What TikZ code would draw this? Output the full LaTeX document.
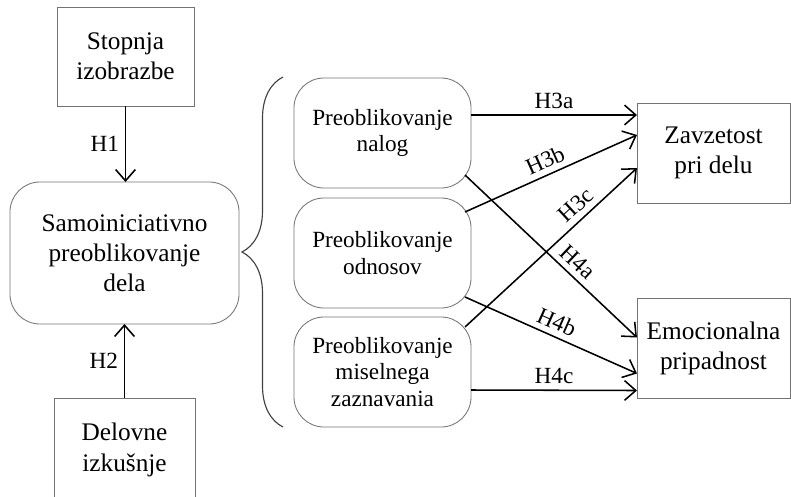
\documentclass[tikz,border=0pt]{standalone}
\usepackage{fontspec}
\setmainfont{Liberation Serif}
\usetikzlibrary{arrows.meta,calc,decorations.pathreplacing}

\begin{document}
\begin{tikzpicture}[x=0.025cm,y=-0.025cm,
  box/.style={draw=black!55,line width=0.6pt,inner sep=0pt,outer sep=0pt,align=center,font=\fontsize{18}{21.5}\selectfont},
  rbox/.style={box,rounded corners=0.75cm},
  mbox/.style={rbox,minimum width=4.425cm,minimum height=2.75cm,font=\fontsize{16.5}{19}\selectfont},
  ibox/.style={box,minimum width=3.825cm,minimum height=2.5cm},
  pot/.style={-{Straight Barb[length=8pt,width=14pt]},line width=1.1pt},
  hlbl/.style={font=\fontsize{16.5}{18}\selectfont,inner sep=4pt},
  lbl/.style={hlbl,sloped,above}]
  \useasboundingbox (0,0) rectangle (791,496);
  \clip (0,0) rectangle (791,496);
  \node[box,minimum width=3.425cm,minimum height=2.475cm] (stopnja) at (125.5,56.5) {Stopnja\\izobrazbe};
  \node[rbox,minimum width=5.725cm,minimum height=3.55cm] (samo) at (124.5,253) {Samoiniciativno\\preoblikovanje\\dela};
  \node[box,minimum width=3.525cm,minimum height=2.6cm] (delovne) at (124.5,450) {Delovne\\izkušnje};
  \draw[pot] (stopnja.south) -- node[hlbl,midway,left]{H1} (stopnja.south |- samo.north);
  \draw[pot] (delovne.north) -- node[hlbl,midway,left]{H2} (delovne.north |- samo.south);
  \draw[black!75,line width=0.8pt,decorate,decoration={brace,amplitude=1.025cm}] (283,427) -- (283,77);
  \node[mbox] (nalog) at (382.5,133) {Preoblikovanje\\nalog};
  \node[mbox] (odnos) at (382.5,253) {Preoblikovanje\\odnosov};
  \node[mbox] (misel) at (382.5,372) {Preoblikovanje\\miselnega\\zaznavania};
  \node[ibox] (zavzet) at (713.5,153) {Zavzetost\\pri delu};
  \node[ibox] (emoc) at (713.5,348.5) {Emocionalna\\pripadnost};
  \draw[pot] ($(nalog.east)+(0,-18)$) -- node[lbl]{H3a} ($(zavzet.west)+(0,-38)$);
  \draw[pot] ($(odnos.north east)+(-6,14)$) -- node[lbl]{H3b} ($(zavzet.west)+(0,-18)$);
  \draw[pot] ($(misel.north east)+(-6,10)$) -- node[lbl,pos=0.7]{H3c} ($(zavzet.west)+(0,15)$);
  \draw[pot] ($(nalog.south east)+(-6,-13)$) -- node[lbl,pos=0.6]{H4a} ($(emoc.west)+(0,-11)$);
  \draw[pot] ($(odnos.south east)+(-6,-11)$) -- node[lbl]{H4b} ($(emoc.west)+(0,25)$);
  \draw[pot] ($(misel.east)+(0,18)$) -- node[lbl]{H4c} ($(emoc.west)+(0,42)$);
\end{tikzpicture}
\end{document}
